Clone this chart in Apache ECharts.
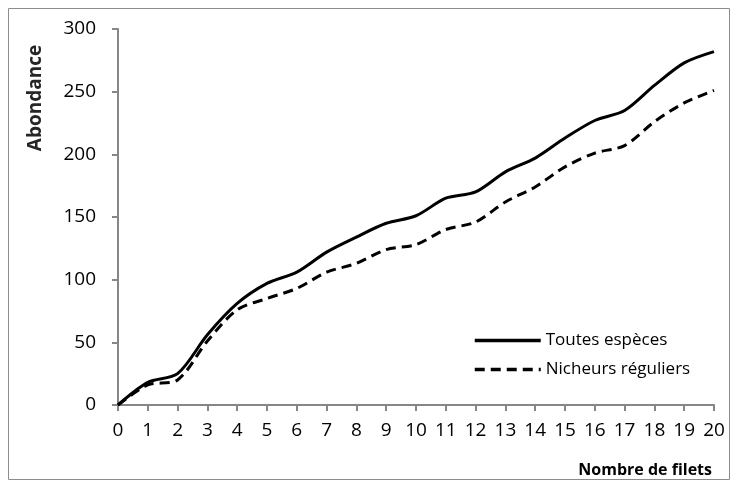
<!DOCTYPE html>
<html>
<head>
<meta charset="utf-8">
<script src="https://cdn.jsdelivr.net/npm/echarts@6/dist/echarts.min.js"></script>
<style>
  html, body { margin: 0; padding: 0; background: #fff; }
  #chart { width: 738px; height: 486px; }
</style>
</head>
<body>
<div id="chart"></div>
<script>
// nombre de filets (axe x)
const filets = [0, 1, 2, 3, 4, 5, 6, 7, 8, 9, 10, 11, 12, 13, 14, 15, 16, 17, 18, 19, 20];
// abondance cumulée
const toutesEspeces = [0, 18, 25, 56, 81, 97, 106, 122, 134, 145, 151, 165, 170, 186, 197, 213, 227, 235, 255, 273, 282];
const nicheursReguliers = [0, 16, 20, 51, 76, 85, 93, 106, 113, 124, 128, 140, 146, 162, 174, 190, 201, 207, 226, 241, 251];

const font = '"Open Sans", "Noto Sans", sans-serif';
const axisGrey = '#868686';

const chart = echarts.init(document.getElementById('chart'));

chart.setOption({
  animation: false,
  textStyle: { fontFamily: font },
  grid: { left: 118, right: 24, top: 29, bottom: 81 },
  graphic: [
    { type: 'rect', shape: { x: 8.5, y: 8.5, width: 721, height: 471 },
      style: { fill: 'none', stroke: '#8c8c8c', lineWidth: 1 } },
    { type: 'text', x: 36, y: 98, rotation: Math.PI / 2,
      style: { text: 'Abondance', font: 'bold 19px ' + font, fill: '#262626', align: 'center', verticalAlign: 'middle' } },
    { type: 'text', x: 712, y: 470,
      style: { text: 'Nombre de filets', font: 'bold 16px ' + font, fill: '#000', align: 'right', verticalAlign: 'middle' } }
  ],
  legend: {
    orient: 'vertical',
    left: 468,
    top: 327,
    itemWidth: 66,
    itemHeight: 14,
    itemGap: 12,
    itemStyle: { opacity: 0 },
    lineStyle: { width: 3.5 },
    textStyle: { fontSize: 17, color: '#000', fontFamily: font },
    data: ['Toutes espèces', 'Nicheurs réguliers']
  },
  xAxis: {
    type: 'value',
    min: 0, max: 20, interval: 1,
    splitLine: { show: false },
    axisLine: { lineStyle: { color: axisGrey, width: 2 } },
    axisTick: { show: true, length: 6, lineStyle: { color: axisGrey, width: 2 } },
    axisLabel: { fontSize: 19, color: '#000', margin: 16, fontFamily: font }
  },
  yAxis: {
    type: 'value',
    min: 0, max: 300, interval: 50,
    splitLine: { show: false },
    axisLine: { show: true, lineStyle: { color: axisGrey, width: 2 } },
    axisTick: { show: true, length: 6, lineStyle: { color: axisGrey, width: 2 } },
    axisLabel: { fontSize: 19, color: '#000', margin: 22, fontFamily: font }
  },
  series: [
    {
      name: 'Toutes espèces',
      type: 'line',
      smooth: 0.3,
      symbol: 'none',
      lineStyle: { color: '#000', width: 3 },
      itemStyle: { color: '#000' },
      data: filets.map((x, i) => [x, toutesEspeces[i]])
    },
    {
      name: 'Nicheurs réguliers',
      type: 'line',
      smooth: 0.3,
      symbol: 'none',
      lineStyle: { color: '#000', width: 3, type: [10, 6] },
      itemStyle: { color: '#000' },
      data: filets.map((x, i) => [x, nicheursReguliers[i]])
    }
  ]
});
</script>
</body>
</html>
